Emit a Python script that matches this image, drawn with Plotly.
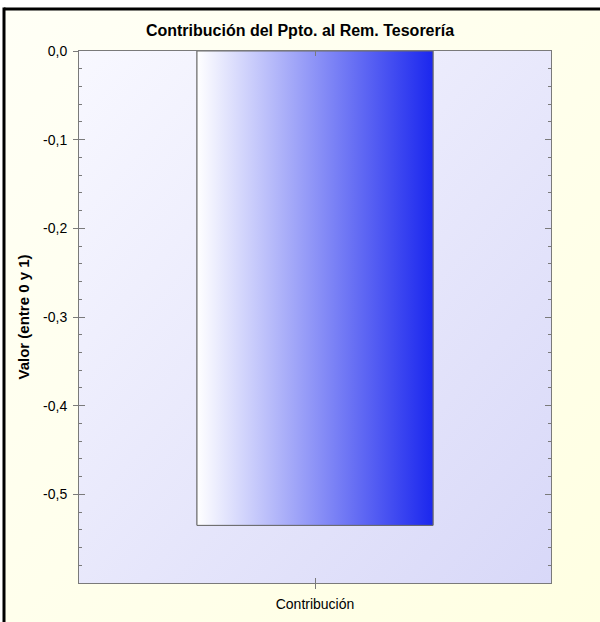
import base64
import plotly.graph_objects as go

# ---- data ----
categories = ["Contribución"]
values = [-0.535]
y_tickvals = [0.0, -0.1, -0.2, -0.3, -0.4, -0.5]
y_ticktext = ["0,0", "-0,1", "-0,2", "-0,3", "-0,4", "-0,5"]
y_range = [-0.6, 0.0]

title_text = "Contribución del Ppto. al Rem. Tesorería"
y_title = "Valor (entre 0 y 1)"

# ---- layout constants (pixels) ----
W, H = 600, 622
L, R, T, B = 79, 49, 51, 39
PW, PH = W - L - R, H - T - B
BAR_W = 0.5
FONT = "Liberation Sans, Arial, sans-serif"
AXIS_COL = "#7A7A7A"


def px_x(px):
    return (px - L) / PW


def px_y(py):
    return (H - B - py) / PH


def grad_uri(c0, c1):
    svg = (
        '<svg xmlns="http://www.w3.org/2000/svg" width="100" height="100" '
        'viewBox="0 0 100 100" preserveAspectRatio="none"><defs>'
        '<linearGradient id="g" x1="0" y1="0" x2="1" y2="1">'
        f'<stop offset="0" stop-color="{c0}"/><stop offset="1" stop-color="{c1}"/>'
        '</linearGradient></defs><rect width="100" height="100" fill="url(#g)"/></svg>'
    )
    return "data:image/svg+xml;base64," + base64.b64encode(svg.encode()).decode()


fig = go.Figure()

idx = list(range(len(categories)))
fig.add_trace(go.Bar(
    x=idx, y=values, width=BAR_W,
    marker=dict(color="rgba(0,0,0,0)", line=dict(color="#6A6A6A", width=1)),
    showlegend=False, hoverinfo="skip",
))

# gradient fill of each bar (polygon derived from the bar value)
for i, v in zip(idx, values):
    xs = [i - BAR_W / 2, i + BAR_W / 2, i + BAR_W / 2, i - BAR_W / 2, i - BAR_W / 2]
    ys = [0, 0, v, v, 0]
    fig.add_trace(go.Scatter(
        x=xs, y=ys, mode="lines", fill="toself",
        fillgradient=dict(type="horizontal",
                          colorscale=[[0, "#FFFFFF"], [1, "#1B27EE"]]),
        line=dict(color="#6A6A6A", width=1),
        showlegend=False, hoverinfo="skip",
    ))

# dummy trace for overlay axes (outside tick halves)
fig.add_trace(go.Scatter(x=[0], y=[0], xaxis="x2", yaxis="y2", mode="markers",
                         marker=dict(opacity=0), showlegend=False, hoverinfo="skip"))

fig.update_layout(
    template="none",
    width=W, height=H,
    margin=dict(l=L, r=R, t=T, b=B, autoexpand=False),
    paper_bgcolor="#FFFFFF",
    plot_bgcolor="rgba(0,0,0,0)",
    font=dict(family=FONT, size=14, color="#000000"),
    title=dict(text=f"<b>{title_text}</b>", x=0.5, xanchor="center",
               y=1 - 30 / H, yanchor="middle", yref="container",
               font=dict(family=FONT, size=16, color="#000000")),
    xaxis=dict(
        range=[-0.5, 0.5], tickvals=idx, ticktext=categories,
        ticks="inside", ticklen=5, tickcolor=AXIS_COL, mirror="ticks",
        showline=True, linecolor=AXIS_COL, linewidth=1,
        showgrid=False, zeroline=False, automargin=False,
        ticklabelstandoff=8, fixedrange=True,
        tickfont=dict(size=14),
    ),
    yaxis=dict(
        range=y_range, tickvals=y_tickvals, ticktext=y_ticktext,
        ticks="inside", ticklen=6, tickcolor=AXIS_COL, mirror="ticks",
        minor=dict(dtick=0.02, ticks="inside", ticklen=3, tickcolor=AXIS_COL, showgrid=False),
        showline=True, linecolor=AXIS_COL, linewidth=1,
        showgrid=False, zeroline=False, automargin=False,
        ticklabelstandoff=8, fixedrange=True,
        tickfont=dict(size=14),
        title=dict(text=f"<b>{y_title}</b>", standoff=9,
                   font=dict(family=FONT, size=15, color="#000000")),
    ),
    xaxis2=dict(
        overlaying="x", side="bottom", range=[-0.5, 0.5], tickvals=idx,
        showticklabels=False, ticks="outside", ticklen=5, tickcolor=AXIS_COL,
        showline=False, showgrid=False, zeroline=False, fixedrange=True,
    ),
    yaxis2=dict(
        overlaying="y", side="left", range=y_range, tickvals=y_tickvals,
        showticklabels=False, ticks="outside", ticklen=5, tickcolor=AXIS_COL,
        showline=False, showgrid=False, zeroline=False, fixedrange=True,
    ),
    images=[
        dict(source=grad_uri("#FFFFF6", "#FFFFE2"), xref="paper", yref="paper",
             x=px_x(4), y=px_y(9), sizex=px_x(W) - px_x(4), sizey=px_y(9) - px_y(H),
             xanchor="left", yanchor="top", sizing="stretch", layer="below"),
        dict(source=grad_uri("#F8F8FF", "#D8D8F8"), xref="paper", yref="paper",
             x=0, y=1, sizex=1, sizey=1,
             xanchor="left", yanchor="top", sizing="stretch", layer="below"),
    ],
    shapes=[
        dict(type="line", xref="paper", yref="paper", x0=px_x(4), x1=px_x(W + 5),
             y0=px_y(9), y1=px_y(9), line=dict(color="#000000", width=3)),
        dict(type="line", xref="paper", yref="paper", x0=px_x(4), x1=px_x(4),
             y0=px_y(7.5), y1=px_y(H + 5), line=dict(color="#000000", width=3)),
    ],
    showlegend=False,
)

fig.write_html(
    "out.html",
    config={"displayModeBar": False},
    post_script="document.body.style.margin='0';document.body.style.overflow='hidden';",
)
